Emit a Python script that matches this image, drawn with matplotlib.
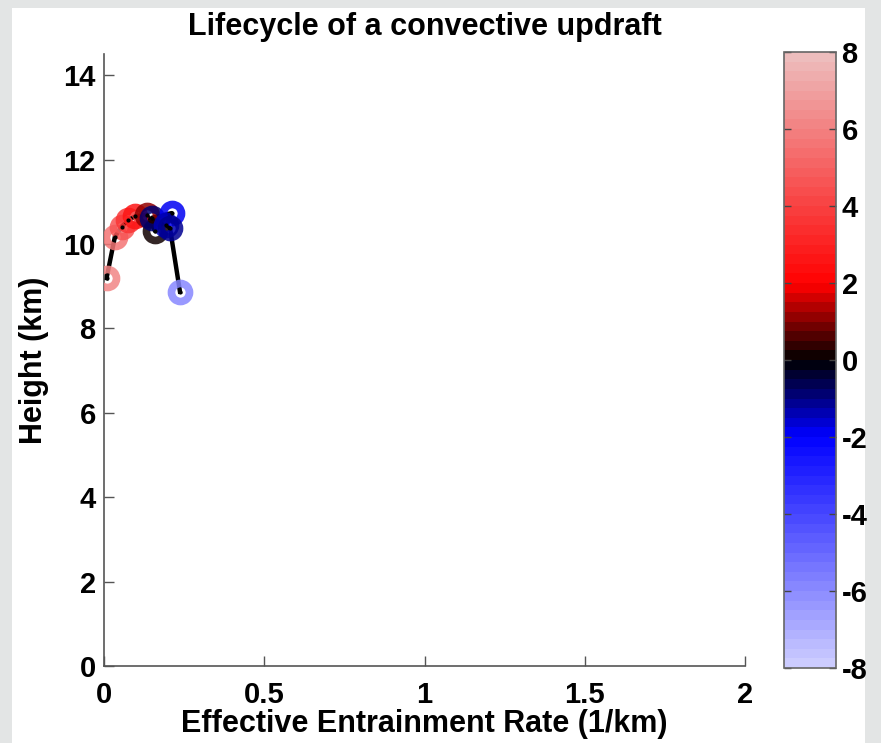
import matplotlib
matplotlib.use("Agg")
import matplotlib.pyplot as plt
import matplotlib.colors as mcolors
import matplotlib.cm as cm
from matplotlib.patches import Rectangle

# updraft track (time order)
entrainment = [0.008, 0.034, 0.055, 0.076, 0.097, 0.133, 0.160, 0.150, 0.211, 0.195, 0.206, 0.237]
height = [9.19, 10.17, 10.41, 10.57, 10.65, 10.69, 10.30, 10.62, 10.73, 10.45, 10.37, 8.87]
colour_val = [6.0, 5.5, 4.5, 3.5, 2.5, 1.0, 0.0, -0.8, -2.0, -1.5, -1.2, -6.0]

xticks = [0, 0.5, 1, 1.5, 2]
xticklabels = ["0", "0.5", "1", "1.5", "2"]
yticks = [0, 2, 4, 6, 8, 10, 12, 14]
cbar_ticks = [-8, -6, -4, -2, 0, 2, 4, 6, 8]

plt.rcParams["font.family"] = ["Liberation Sans", "DejaVu Sans"]
plt.rcParams["font.weight"] = "bold"
plt.rcParams["axes.unicode_minus"] = False

# blue - black - red map, stepped like a 64-colour matlab map
nodes = [(0.0, (0.80, 0.80, 1.0)), (0.375, (0.0, 0.0, 1.0)), (0.5, (0.0, 0.0, 0.0)),
         (0.625, (1.0, 0.0, 0.0)), (1.0, (0.93, 0.74, 0.74))]
cmap = mcolors.LinearSegmentedColormap.from_list("bkr", nodes, N=64)
norm = mcolors.Normalize(vmin=-8, vmax=8)

fig = plt.figure(figsize=(8.81, 7.43), dpi=100)
fig.patch.set_facecolor("#e3e5e5")
fig.patches.append(Rectangle((12 / 881, 0), (865 - 12) / 881, 1 - 8 / 743,
                             transform=fig.transFigure, facecolor="white",
                             edgecolor="none", zorder=-10))

ax = fig.add_axes([104 / 881, 1 - 666 / 743, (745 - 104) / 881, (666 - 54) / 743])
ax.set_facecolor("none")

ax.plot(entrainment, height, color="black", lw=3.2, zorder=2)
edge_cols = cmap(norm(colour_val))
for x, y, ec in zip(entrainment, height, edge_cols):
    ax.plot(x, y, marker="o", ms=13, mfc="none", mec=ec, mew=5.5, alpha=0.85, zorder=3)
ax.plot(entrainment, height, ls="none", marker=".", ms=4, color="black", zorder=4)

ax.set_xlim(0, 2)
ax.set_ylim(0, 14.5)
ax.set_xticks(xticks)
ax.set_xticklabels(xticklabels)
ax.set_yticks(yticks)
for s in ["top", "right"]:
    ax.spines[s].set_visible(False)
for s in ["left", "bottom"]:
    ax.spines[s].set_color("#555555")
    ax.spines[s].set_linewidth(1.2)
ax.tick_params(direction="in", length=7, width=1, color="#555555", labelsize=21)
ax.tick_params(axis="x", pad=11)
ax.tick_params(axis="y", pad=6)

ax.set_title("Lifecycle of a convective updraft", fontsize=22, fontweight="bold", pad=14)
ax.set_xlabel("Effective Entrainment Rate (1/km)", fontsize=22, fontweight="bold",
              labelpad=0)
ax.set_ylabel("Height (km)", fontsize=22, fontweight="bold", labelpad=10)

cax = fig.add_axes([784 / 881, 1 - 668 / 743, 52 / 881, 616 / 743])
sm = cm.ScalarMappable(norm=norm, cmap=cmap)
cb = fig.colorbar(sm, cax=cax, ticks=cbar_ticks)
cb.outline.set_edgecolor("#666666")
cb.outline.set_linewidth(1.2)
cax.tick_params(direction="in", length=5, width=1, color="#444444", labelsize=21,
                left=True, right=True, pad=4)

fig.savefig("out.png", dpi=100, facecolor=fig.get_facecolor())
